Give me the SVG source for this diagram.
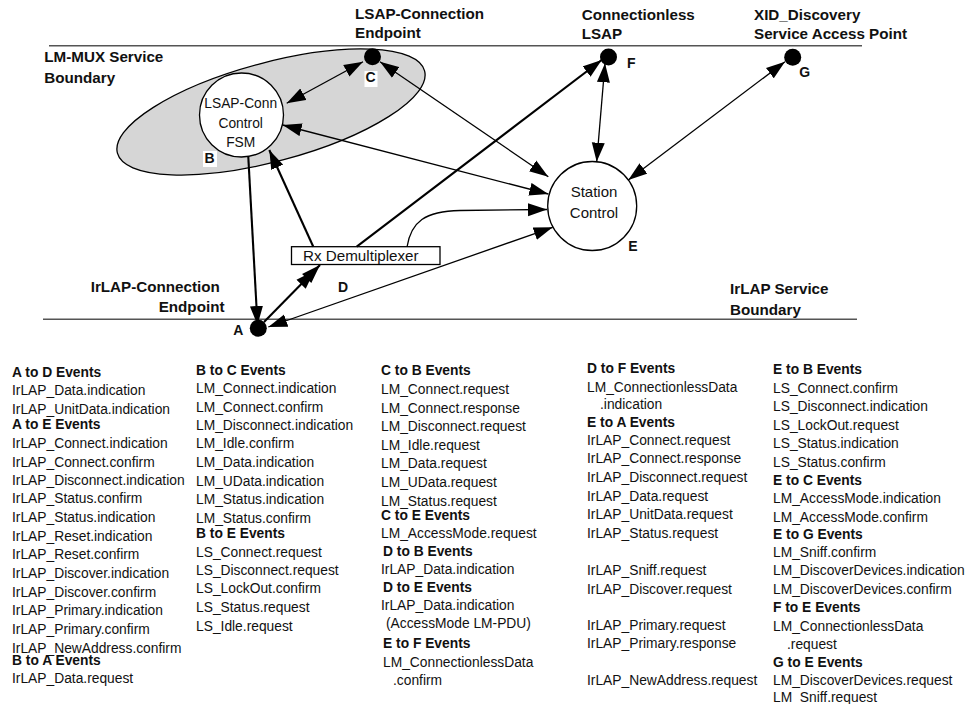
<svg xmlns="http://www.w3.org/2000/svg" width="966" height="704" viewBox="0 0 966 704">
<style>
text{font-family:"Liberation Sans",Arial,sans-serif;fill:#111}
.ev{font-size:13.8px}
.hd{font-size:13.8px;font-weight:bold}
.lb{font-size:15.2px;font-weight:bold}
.let{font-size:14px;font-weight:bold}
.nd{font-size:13.8px;text-anchor:middle}
.nd2{font-size:15px;text-anchor:middle}
.bnd{stroke:#555;stroke-width:1.6;fill:none}
.c{stroke:#000;stroke-width:1.3;fill:none;marker-end:url(#ah)}
.c2{stroke:#000;stroke-width:1.3;fill:none;marker-end:url(#ah);marker-start:url(#ah)}
.t{stroke:#000;stroke-width:2.1;fill:none;marker-end:url(#ah)}
.circ{fill:#fff;stroke:#000;stroke-width:1.3}
.dot{fill:#000}
</style>
<defs>
<marker id="ah" markerUnits="userSpaceOnUse" markerWidth="20" markerHeight="14" viewBox="0 0 20 14" refX="19" refY="7" orient="auto-start-reverse">
<path d="M0,0.5 L19,7 L0,13.5 z" fill="#000"/>
</marker>
<marker id="ah2" markerUnits="userSpaceOnUse" markerWidth="28" markerHeight="14" viewBox="0 0 28 14" refX="27" refY="7" orient="auto">
<path d="M0,0.5 L19,7 L0,13.5 z M8,0.5 L27,7 L8,13.5 z" fill="#000"/>
</marker>
</defs>

<g id="boundaries">
<line class="bnd" x1="49" y1="45.7" x2="862" y2="45.7"/>
<line class="bnd" x1="43" y1="319.3" x2="857" y2="319.3"/>
<text class="lb" x="44.3" y="61.6">LM-MUX Service</text>
<text class="lb" x="44.3" y="83.2">Boundary</text>
<text class="lb" x="730" y="294">IrLAP Service</text>
<text class="lb" x="730" y="315">Boundary</text>
</g>

<g id="lmmux-region">
<ellipse cx="271" cy="112" rx="159" ry="49.4" transform="rotate(-15 271 112)" fill="#d6d6d6" stroke="#000" stroke-width="1.3"/>
</g>

<g id="node-B">
<circle class="circ" cx="241.5" cy="115" r="42"/>
<text class="nd" x="240.7" y="108">LSAP-Conn</text>
<text class="nd" x="240.7" y="127.6">Control</text>
<text class="nd" x="240.7" y="146.6">FSM</text>
<rect x="203" y="151" width="14" height="16" fill="#fff"/>
<text class="let" x="204.5" y="162.6">B</text>
</g>

<g id="node-C">
<circle class="dot" cx="372.5" cy="56.7" r="8.5"/>
<rect x="364.5" y="71" width="13" height="16" fill="#fff"/>
<text class="let" x="365.5" y="82">C</text>
<text class="lb" x="355" y="19">LSAP-Connection</text>
<text class="lb" x="355" y="38">Endpoint</text>
</g>

<g id="node-F">
<circle class="dot" cx="608.5" cy="57" r="8.5"/>
<text class="let" x="627" y="68">F</text>
<text class="lb" x="581.7" y="20">Connectionless</text>
<text class="lb" x="581.7" y="39">LSAP</text>
</g>

<g id="node-G">
<circle class="dot" cx="792.7" cy="57.3" r="8.5"/>
<text class="let" x="799.3" y="76.6">G</text>
<text class="lb" x="754" y="20">XID_Discovery</text>
<text class="lb" x="754" y="39">Service Access Point</text>
</g>

<g id="node-E">
<circle class="circ" cx="592.2" cy="206" r="44.5"/>
<text class="nd2" x="594" y="197">Station</text>
<text class="nd2" x="594" y="217.7">Control</text>
<text class="let" x="628.3" y="251">E</text>
</g>

<g id="node-D">
<rect x="291.5" y="246.7" width="148.5" height="17.8" fill="#fff" stroke="#000" stroke-width="1.3"/>
<text style="font-size:15.2px" x="303" y="261.4">Rx Demultiplexer</text>
<text class="let" x="338" y="291.6">D</text>
</g>

<g id="node-A">
<circle class="dot" cx="258.3" cy="328.3" r="8.5"/>
<text class="let" x="233.3" y="335">A</text>
<text class="lb" x="90.7" y="292">IrLAP-Connection</text>
<text class="lb" x="158.7" y="312">Endpoint</text>
</g>

<g id="connectors">
<line class="c2" x1="286.7" y1="103.3" x2="363" y2="61.7"/>
<line class="c2" x1="380" y1="61.7" x2="548.3" y2="176.7"/>
<line class="c2" x1="282.7" y1="125" x2="548.3" y2="194"/>
<path class="c" d="M407,247 C411,222 425,211 460,210.5 L547,209.5"/>
<line class="c2" x1="268.3" y1="327" x2="552.7" y2="227.3"/>
<line class="t" x1="356.7" y1="246.7" x2="601.7" y2="60"/>
<line class="c2" x1="605" y1="63.3" x2="596.7" y2="161.7"/>
<line class="c2" x1="785" y1="61.7" x2="628.3" y2="180"/>
<line class="t" x1="248.3" y1="157" x2="257.5" y2="325"/>
<line class="t" x1="313.3" y1="246.7" x2="269.3" y2="150"/>
<line x1="264" y1="322" x2="320" y2="265" stroke="#000" stroke-width="2.1" marker-end="url(#ah2)"/>
</g>

<g id="event-lists">
<text class="hd" x="12" y="376.5">A to D Events</text>
<text class="ev" x="12" y="395">IrLAP_Data.indication</text>
<text class="ev" x="12" y="414">IrLAP_UnitData.indication</text>
<text class="hd" x="12" y="429">A to E Events</text>
<text class="ev" x="12" y="447.5">IrLAP_Connect.indication</text>
<text class="ev" x="12" y="466.5">IrLAP_Connect.confirm</text>
<text class="ev" x="12" y="485">IrLAP_Disconnect.indication</text>
<text class="ev" x="12" y="503">IrLAP_Status.confirm</text>
<text class="ev" x="12" y="522">IrLAP_Status.indication</text>
<text class="ev" x="12" y="541">IrLAP_Reset.indication</text>
<text class="ev" x="12" y="559">IrLAP_Reset.confirm</text>
<text class="ev" x="12" y="578">IrLAP_Discover.indication</text>
<text class="ev" x="12" y="596.5">IrLAP_Discover.confirm</text>
<text class="ev" x="12" y="615">IrLAP_Primary.indication</text>
<text class="ev" x="12" y="634">IrLAP_Primary.confirm</text>
<text class="ev" x="12" y="652.5">IrLAP_NewAddress.confirm</text>
<text class="hd" x="12" y="665">B to A Events</text>
<text class="ev" x="12" y="683">IrLAP_Data.request</text>

<text class="hd" x="196" y="375">B to C Events</text>
<text class="ev" x="196" y="393">LM_Connect.indication</text>
<text class="ev" x="196" y="411.5">LM_Connect.confirm</text>
<text class="ev" x="196" y="430">LM_Disconnect.indication</text>
<text class="ev" x="196" y="448">LM_Idle.confirm</text>
<text class="ev" x="196" y="466.5">LM_Data.indication</text>
<text class="ev" x="196" y="485.5">LM_UData.indication</text>
<text class="ev" x="196" y="504">LM_Status.indication</text>
<text class="ev" x="196" y="523">LM_Status.confirm</text>
<text class="hd" x="196" y="538">B to E Events</text>
<text class="ev" x="196" y="556.5">LS_Connect.request</text>
<text class="ev" x="196" y="575">LS_Disconnect.request</text>
<text class="ev" x="196" y="593">LS_LockOut.confirm</text>
<text class="ev" x="196" y="611.5">LS_Status.request</text>
<text class="ev" x="196" y="630.5">LS_Idle.request</text>

<text class="hd" x="381" y="375">C to B Events</text>
<text class="ev" x="381" y="394">LM_Connect.request</text>
<text class="ev" x="381" y="412.5">LM_Connect.response</text>
<text class="ev" x="381" y="431">LM_Disconnect.request</text>
<text class="ev" x="381" y="450">LM_Idle.request</text>
<text class="ev" x="381" y="468">LM_Data.request</text>
<text class="ev" x="381" y="487">LM_UData.request</text>
<text class="ev" x="381" y="505.5">LM_Status.request</text>
<text class="hd" x="381" y="520">C to E Events</text>
<text class="ev" x="381" y="537.5">LM_AccessMode.request</text>
<text class="hd" x="383" y="555.5">D to B Events</text>
<text class="ev" x="381" y="574">IrLAP_Data.indication</text>
<text class="hd" x="383" y="591.5">D to E Events</text>
<text class="ev" x="381" y="610">IrLAP_Data.indication</text>
<text class="ev" x="386" y="628">(AccessMode LM-PDU)</text>
<text class="hd" x="383" y="648">E to F Events</text>
<text class="ev" x="383" y="666.5">LM_ConnectionlessData</text>
<text class="ev" x="393" y="685">.confirm</text>

<text class="hd" x="587" y="373">D to F Events</text>
<text class="ev" x="587" y="391.5">LM_ConnectionlessData</text>
<text class="ev" x="600" y="409">.indication</text>
<text class="hd" x="587" y="426.5">E to A Events</text>
<text class="ev" x="587" y="445">IrLAP_Connect.request</text>
<text class="ev" x="587" y="463">IrLAP_Connect.response</text>
<text class="ev" x="587" y="481.5">IrLAP_Disconnect.request</text>
<text class="ev" x="587" y="500.5">IrLAP_Data.request</text>
<text class="ev" x="587" y="519">IrLAP_UnitData.request</text>
<text class="ev" x="587" y="538">IrLAP_Status.request</text>
<text class="ev" x="587" y="575">IrLAP_Sniff.request</text>
<text class="ev" x="587" y="593.5">IrLAP_Discover.request</text>
<text class="ev" x="587" y="630">IrLAP_Primary.request</text>
<text class="ev" x="587" y="648">IrLAP_Primary.response</text>
<text class="ev" x="587" y="685">IrLAP_NewAddress.request</text>

<text class="hd" x="773" y="374">E to B Events</text>
<text class="ev" x="773" y="392.5">LS_Connect.confirm</text>
<text class="ev" x="773" y="411">LS_Disconnect.indication</text>
<text class="ev" x="773" y="430">LS_LockOut.request</text>
<text class="ev" x="773" y="448">LS_Status.indication</text>
<text class="ev" x="773" y="467">LS_Status.confirm</text>
<text class="hd" x="773" y="485">E to C Events</text>
<text class="ev" x="773" y="503">LM_AccessMode.indication</text>
<text class="ev" x="773" y="521.5">LM_AccessMode.confirm</text>
<text class="hd" x="773" y="539">E to G Events</text>
<text class="ev" x="773" y="556.5">LM_Sniff.confirm</text>
<text class="ev" x="773" y="575">LM_DiscoverDevices.indication</text>
<text class="ev" x="773" y="594">LM_DiscoverDevices.confirm</text>
<text class="hd" x="773" y="612">F to E Events</text>
<text class="ev" x="773" y="630.5">LM_ConnectionlessData</text>
<text class="ev" x="787" y="649">.request</text>
<text class="hd" x="773" y="666.5">G to E Events</text>
<text class="ev" x="773" y="685">LM_DiscoverDevices.request</text>
<text class="ev" x="773" y="701.5">LM_Sniff.request</text>
</g>
</svg>
